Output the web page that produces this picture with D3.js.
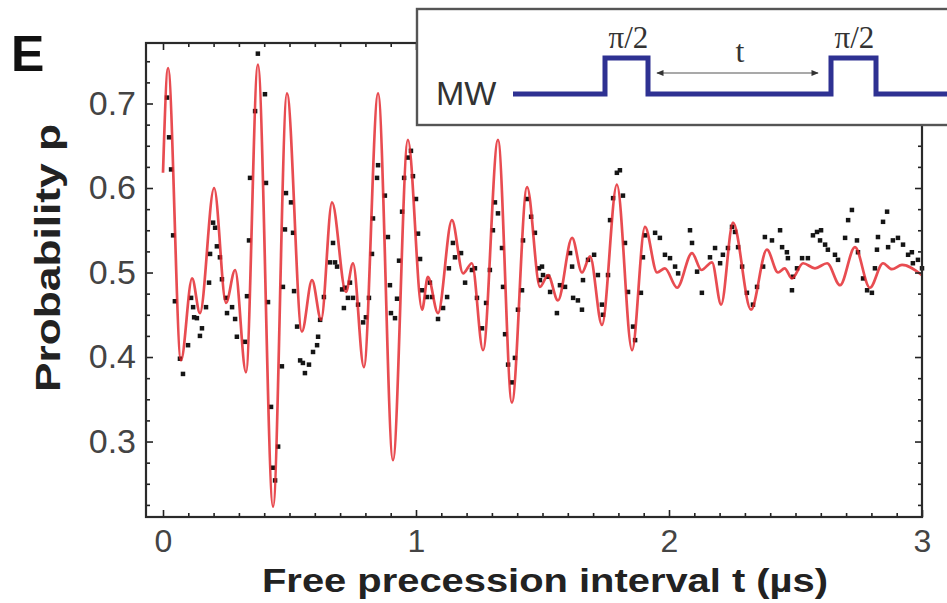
<!DOCTYPE html>
<html><head><meta charset="utf-8">
<script src="https://cdn.jsdelivr.net/npm/d3@7"></script>
<style>
html,body{margin:0;padding:0;background:#fff;}
svg{display:block;}
</style></head>
<body>
<svg id="c" width="947" height="603"></svg>
<script>
// ---- data ----
const yTickValues = [0.3, 0.4, 0.5, 0.6, 0.7];
const yTickLabels = ["0.3", "0.4", "0.5", "0.6", "0.7"];
const xTickValues = [0, 1, 2, 3];
const xTickLabels = ["0", "1", "2", "3"];

// fitted curve (turning points)
const fitT = [0.000,0.020,0.071,0.115,0.146,0.202,0.249,0.285,0.328,0.375,0.435,0.490,0.549,0.589,0.625,0.668,0.723,0.751,0.794,0.850,0.909,0.968,1.024,1.047,1.087,1.142,1.186,1.221,1.265,1.324,1.379,1.439,1.490,1.522,1.561,1.617,1.656,1.688,1.735,1.794,1.854,1.905,1.953,1.984,2.032,2.091,2.128,2.170,2.206,2.253,2.324,2.387,2.431,2.457,2.486,2.530,2.577,2.625,2.676,2.735,2.794,2.846,2.881,2.921,3.000];
const fitP = [0.618,0.742,0.396,0.493,0.452,0.600,0.464,0.503,0.382,0.746,0.223,0.712,0.430,0.491,0.444,0.583,0.477,0.511,0.388,0.712,0.278,0.657,0.456,0.495,0.452,0.562,0.499,0.511,0.408,0.657,0.346,0.601,0.483,0.497,0.467,0.541,0.500,0.519,0.438,0.604,0.408,0.554,0.500,0.505,0.482,0.523,0.503,0.512,0.462,0.559,0.456,0.527,0.500,0.505,0.493,0.511,0.505,0.511,0.485,0.530,0.482,0.511,0.504,0.509,0.497];

// measured points
const dataT = [0.016,0.024,0.032,0.040,0.047,0.067,0.079,0.099,0.111,0.119,0.123,0.134,0.146,0.154,0.170,0.182,0.186,0.198,0.206,0.213,0.225,0.233,0.249,0.253,0.273,0.285,0.292,0.324,0.332,0.340,0.344,0.364,0.375,0.403,0.407,0.415,0.427,0.435,0.443,0.455,0.470,0.474,0.482,0.486,0.506,0.514,0.518,0.530,0.542,0.553,0.561,0.577,0.593,0.609,0.613,0.621,0.636,0.660,0.672,0.680,0.688,0.708,0.715,0.719,0.731,0.739,0.751,0.771,0.791,0.802,0.814,0.826,0.830,0.846,0.850,0.877,0.889,0.897,0.901,0.917,0.925,0.933,0.945,0.953,0.968,0.980,0.988,1.000,1.008,1.016,1.024,1.043,1.055,1.063,1.087,1.107,1.123,1.130,1.146,1.154,1.178,1.194,1.221,1.233,1.241,1.261,1.277,1.292,1.304,1.312,1.324,1.340,1.344,1.352,1.364,1.379,1.391,1.403,1.419,1.423,1.439,1.455,1.470,1.486,1.490,1.498,1.502,1.522,1.530,1.557,1.569,1.589,1.609,1.617,1.621,1.640,1.656,1.660,1.680,1.704,1.719,1.735,1.739,1.759,1.767,1.779,1.794,1.806,1.818,1.826,1.838,1.858,1.866,1.889,1.897,1.905,1.945,1.964,1.984,2.004,2.024,2.036,2.083,2.091,2.111,2.130,2.162,2.182,2.202,2.213,2.233,2.249,2.261,2.273,2.289,2.308,2.332,2.348,2.372,2.379,2.407,2.439,2.447,2.466,2.470,2.486,2.490,2.506,2.526,2.549,2.569,2.585,2.597,2.601,2.617,2.628,2.656,2.668,2.696,2.708,2.723,2.743,2.747,2.767,2.783,2.802,2.814,2.822,2.826,2.846,2.862,2.866,2.885,2.905,2.925,2.945,2.960,2.964,2.984,3.000];
const dataP = [0.707,0.660,0.622,0.544,0.466,0.398,0.380,0.414,0.470,0.459,0.447,0.446,0.425,0.434,0.459,0.488,0.522,0.559,0.553,0.531,0.518,0.492,0.470,0.452,0.459,0.445,0.424,0.418,0.472,0.538,0.612,0.691,0.759,0.711,0.606,0.465,0.341,0.269,0.254,0.294,0.389,0.483,0.551,0.594,0.583,0.547,0.478,0.436,0.396,0.393,0.381,0.391,0.406,0.414,0.424,0.444,0.471,0.512,0.535,0.512,0.507,0.480,0.458,0.482,0.470,0.488,0.470,0.462,0.441,0.447,0.470,0.522,0.564,0.612,0.627,0.591,0.542,0.485,0.452,0.446,0.469,0.514,0.572,0.612,0.636,0.644,0.614,0.587,0.546,0.516,0.479,0.471,0.488,0.471,0.445,0.458,0.471,0.505,0.535,0.518,0.523,0.488,0.503,0.505,0.470,0.434,0.464,0.503,0.550,0.583,0.570,0.529,0.483,0.427,0.391,0.370,0.399,0.456,0.479,0.538,0.587,0.566,0.547,0.505,0.491,0.507,0.497,0.495,0.477,0.452,0.485,0.483,0.523,0.507,0.470,0.467,0.456,0.491,0.515,0.521,0.497,0.462,0.450,0.497,0.562,0.588,0.618,0.621,0.591,0.535,0.477,0.436,0.420,0.476,0.518,0.544,0.547,0.541,0.521,0.517,0.507,0.499,0.550,0.535,0.501,0.476,0.518,0.529,0.511,0.521,0.529,0.554,0.548,0.530,0.507,0.476,0.462,0.483,0.507,0.542,0.538,0.550,0.530,0.524,0.517,0.479,0.495,0.505,0.517,0.517,0.544,0.548,0.538,0.550,0.533,0.527,0.521,0.515,0.541,0.562,0.574,0.538,0.524,0.493,0.479,0.476,0.505,0.527,0.542,0.560,0.572,0.530,0.538,0.541,0.533,0.521,0.524,0.511,0.515,0.505];

const panelLabel = "E";
const xTitle = "Free precession interval t  (\u00b5s)";
const yTitle = "Probability p";
const insetSignal = "MW";
const insetPulse = "\u03c0/2";
const insetGap = "t";
// pulse sequence: level (0 low / 1 high) over abstract time units
const pulseTimes = [0, 1, 1, 2, 2, 6.2, 6.2, 7.2, 7.2, 8.8];
const pulseLevels = [0, 0, 1, 1, 0, 0, 1, 1, 0, 0];

// ---- layout ----
const svg = d3.select("#c");
svg.append("rect").attr("width", 947).attr("height", 603).attr("fill", "#fff");

const L = 146, R = 922, T = 43, B = 517;
const x = d3.scaleLinear().domain([-0.0672, 3.0]).range([L, R]);
const y = d3.scaleLinear().domain([0.2107, 0.7716]).range([B, T]);

const fontSans = "'Liberation Sans', Arial, Helvetica, sans-serif";

// data points (under the line)
const pts = dataT.map((t, i) => ({t, p: dataP[i]}));
svg.append("g").selectAll("rect").data(pts).join("rect")
  .attr("x", d => x(d.t) - 2.25).attr("y", d => y(d.p) - 2.25)
  .attr("width", 4.5).attr("height", 4.5)
  .attr("fill", "#151515");

// fit line
const fit = fitT.map((t, i) => ({t, p: fitP[i]}));
svg.append("path").datum(fit)
  .attr("d", d3.line().x(d => x(d.t)).y(d => y(d.p)).curve(d3.curveMonotoneX))
  .attr("fill", "none").attr("stroke", "#e3242b").attr("stroke-width", 2.7)
  .attr("stroke-opacity", 0.82).attr("stroke-linejoin", "round");

// axes (ticks inward)
const yMinor = d3.range(0.225, 0.76, 0.025).filter(v => Math.abs(Math.round(v * 10) - v * 10) > 0.01);
const xMinor = d3.range(0.1, 3.0, 0.1).filter(v => Math.abs(Math.round(v) - v) > 0.01);

function styleAxis(g) {
  g.select(".domain").remove();
  g.selectAll(".tick line").attr("stroke", "#222").attr("stroke-width", 1.6);
}

svg.append("g").attr("transform", `translate(${L},0)`)
  .call(d3.axisLeft(y).tickValues(yTickValues).tickFormat((d, i) => yTickLabels[i]).tickSize(-7).tickPadding(10))
  .call(styleAxis)
  .call(g => g.selectAll("text").attr("font-family", fontSans).attr("font-size", 34).attr("fill", "#444"));
svg.append("g").attr("transform", `translate(${L},0)`)
  .call(d3.axisLeft(y).tickValues(yMinor).tickFormat("").tickSize(-4)).call(styleAxis);
svg.append("g").attr("transform", `translate(${R},0)`)
  .call(d3.axisRight(y).tickValues(yTickValues).tickFormat("").tickSize(-7)).call(styleAxis);
svg.append("g").attr("transform", `translate(${R},0)`)
  .call(d3.axisRight(y).tickValues(yMinor).tickFormat("").tickSize(-4)).call(styleAxis);

svg.append("g").attr("transform", `translate(0,${B})`)
  .call(d3.axisBottom(x).tickValues(xTickValues).tickFormat((d, i) => xTickLabels[i]).tickSize(-7).tickPadding(12))
  .call(styleAxis)
  .call(g => g.selectAll("text").attr("font-family", fontSans).attr("font-size", 32).attr("fill", "#444"));
svg.append("g").attr("transform", `translate(0,${B})`)
  .call(d3.axisBottom(x).tickValues(xMinor).tickFormat("").tickSize(-4)).call(styleAxis);
svg.append("g").attr("transform", `translate(0,${T})`)
  .call(d3.axisTop(x).tickValues(xTickValues).tickFormat("").tickSize(-7)).call(styleAxis);
svg.append("g").attr("transform", `translate(0,${T})`)
  .call(d3.axisTop(x).tickValues(xMinor).tickFormat("").tickSize(-4)).call(styleAxis);

// frame
svg.append("rect").attr("x", L).attr("y", T).attr("width", R - L).attr("height", B - T)
  .attr("fill", "none").attr("stroke", "#2a2a2a").attr("stroke-width", 2.2);

// titles
svg.append("text").text(xTitle)
  .attr("x", 262).attr("y", 592)
  .attr("font-family", fontSans).attr("font-weight", "bold").attr("font-size", 34)
  .attr("fill", "#222").attr("textLength", 566).attr("lengthAdjust", "spacingAndGlyphs");

svg.append("text").text(yTitle)
  .attr("transform", "translate(60,258) rotate(-90)")
  .attr("text-anchor", "middle")
  .attr("font-family", fontSans).attr("font-weight", "bold").attr("font-size", 35)
  .attr("fill", "#222").attr("textLength", 268).attr("lengthAdjust", "spacingAndGlyphs");

svg.append("text").text(panelLabel)
  .attr("x", 11).attr("y", 71)
  .attr("font-family", fontSans).attr("font-weight", "bold").attr("font-size", 50)
  .attr("fill", "#111");

// inset
const inset = svg.append("g");
inset.append("rect").attr("x", 417).attr("y", 9).attr("width", 560).attr("height", 116)
  .attr("fill", "#fff").attr("stroke", "#555").attr("stroke-width", 2.4);
inset.append("text").text(insetSignal).attr("x", 436).attr("y", 105)
  .attr("font-family", fontSans).attr("font-size", 34).attr("fill", "#333");

const px = d3.scaleLinear().domain([0, 1, 2, 6.2, 7.2, 8.8]).range([513, 605, 648, 831, 876, 950]);
const py = d3.scaleLinear().domain([0, 1]).range([94, 58]);
inset.append("path").datum(pulseTimes.map((t, i) => [t, pulseLevels[i]]))
  .attr("d", d3.line().x(d => px(d[0])).y(d => py(d[1])))
  .attr("fill", "none").attr("stroke", "#2e3192").attr("stroke-width", 5).attr("stroke-linejoin", "miter");

const serif = "'Liberation Serif', 'Times New Roman', serif";
inset.append("text").text(insetPulse).attr("x", (px(1) + px(2)) / 2 + 2).attr("y", 48)
  .attr("text-anchor", "middle").attr("font-family", serif).attr("font-size", 31).attr("fill", "#333");
inset.append("text").text(insetPulse).attr("x", (px(6.2) + px(7.2)) / 2 + 1).attr("y", 48)
  .attr("text-anchor", "middle").attr("font-family", serif).attr("font-size", 31).attr("fill", "#333");
inset.append("text").text(insetGap).attr("x", 740).attr("y", 62)
  .attr("text-anchor", "middle").attr("font-family", serif).attr("font-size", 32).attr("fill", "#333");

const defs = svg.append("defs");
defs.append("marker").attr("id", "ah").attr("viewBox", "0 0 10 10").attr("refX", 9).attr("refY", 5)
  .attr("markerWidth", 7).attr("markerHeight", 6).attr("orient", "auto-start-reverse")
  .append("path").attr("d", "M0,1 L10,5 L0,9 Z").attr("fill", "#333");
inset.append("line").attr("x1", px(2) + 9).attr("x2", px(6.2) - 13).attr("y1", 73).attr("y2", 73)
  .attr("stroke", "#555").attr("stroke-width", 1.2)
  .attr("marker-start", "url(#ah)").attr("marker-end", "url(#ah)");
</script>
</body></html>
